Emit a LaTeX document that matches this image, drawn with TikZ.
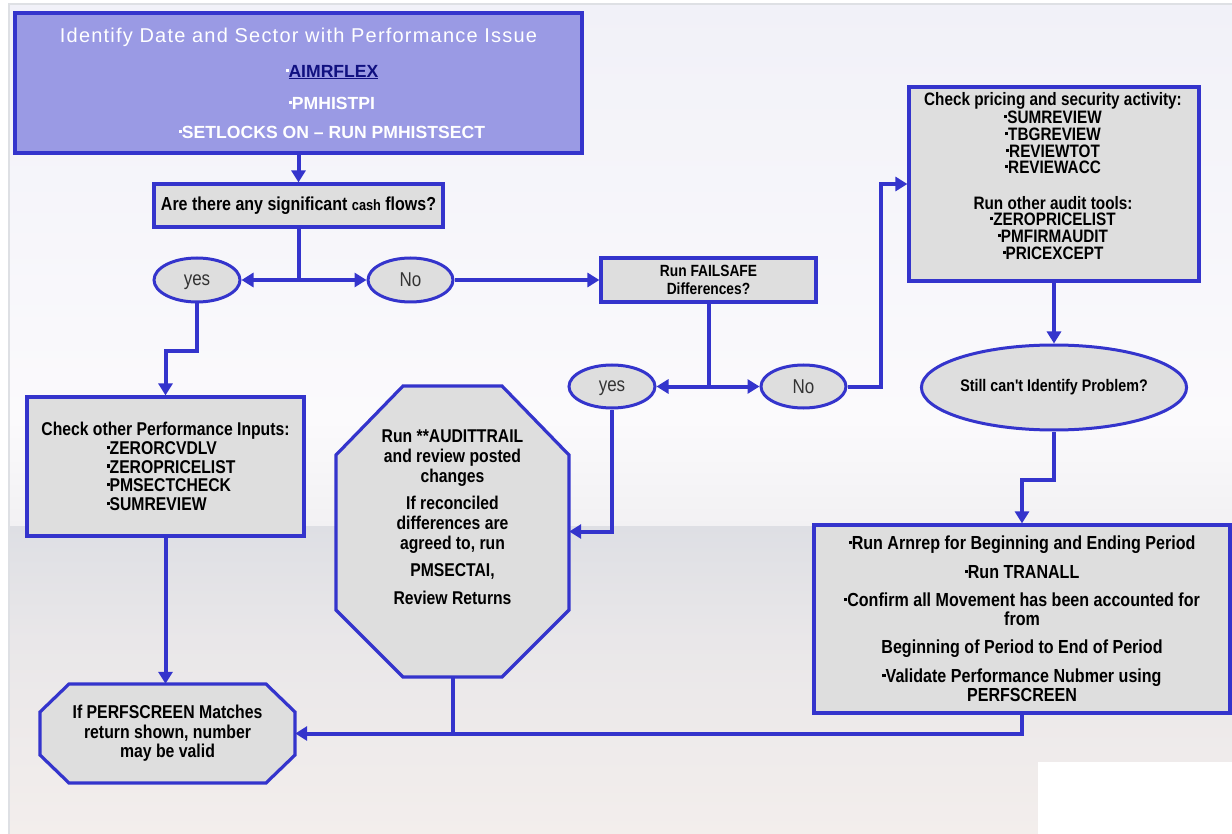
\documentclass[tikz,border=0pt]{standalone}
\usepackage{fontspec}
\setmainfont{Liberation Sans}
\newfontfamily\nar[FakeStretch=0.85]{Liberation Sans}
\newfontfamily\ttlf[LetterSpace=6]{Liberation Sans}
\usetikzlibrary{arrows.meta,calc,shapes.geometric}
\definecolor{bblue}{RGB}{52,52,204}
\definecolor{boxgray}{RGB}{222,222,222}
\definecolor{titlefill}{RGB}{154,154,228}
\definecolor{navy}{RGB}{16,16,128}
\definecolor{bgA}{RGB}{241,241,248}
\definecolor{bgB}{RGB}{251,250,252}
\definecolor{bgC}{RGB}{242,241,243}
\definecolor{bgD}{RGB}{222,223,228}
\definecolor{bgE}{RGB}{233,231,233}
\definecolor{bgF}{RGB}{243,238,236}
\definecolor{framegray}{RGB}{222,224,228}
\lineskiplimit=-100pt
\newcommand\sq{\raisebox{.3em}{\rule{.17em}{.17em}}}
\newcommand\fs[2]{\fontsize{#1}{#2}\selectfont}
\begin{document}
\begin{tikzpicture}[x=1pt,y=-1pt,
  box/.style={draw=bblue,line width=3.2pt,fill=boxgray,inner sep=0pt,align=center,font=\nar\bfseries},
  octo/.style={draw=bblue,line width=3.2pt,fill=boxgray,line join=miter},
  ell/.style={ellipse,draw=bblue,line width=3pt,fill=boxgray,inner sep=0pt},
  txt/.style={inner sep=0pt,align=center},
  conn/.style={draw=bblue,line width=4pt,line join=miter},
  arr/.style={conn,-{Triangle[length=12pt,width=14pt]}}]
\useasboundingbox (0,0) rectangle (1232,834);
% background
\fill[white] (0,0) rectangle (1232,834);
\shade[top color=bgA,bottom color=bgB] (9,4) rectangle (1232,420);
\shade[top color=bgB,bottom color=bgC] (9,420) rectangle (1232,526);
\shade[top color=bgD,bottom color=bgE] (9,526) rectangle (1232,640);
\shade[top color=bgE,bottom color=bgF] (9,640) rectangle (1232,834);
\fill[white] (1038,762) rectangle (1232,834);
\draw[framegray,line width=2pt] (9,834) -- (9,4) -- (1232,4);

% title
\node[box,fill=titlefill,text=white,minimum width=567,minimum height=140,font=\bfseries\fs{17.6}{17}] (title) at (298.5,83)
 {{\ttlf\mdseries\fs{20}{17}Identify Date and Sector with Performance Issue}\\[18pt]
  \hspace*{67pt}\sq\textcolor{navy}{\underline{AIMRFLEX}}\\[15pt]
  \hspace*{67pt}\sq PMHISTPI\\[12pt]
  \hspace*{67pt}\sq SETLOCKS ON – RUN PMHISTSECT};

\node[box,minimum width=289,minimum height=43,font=\nar\bfseries\fs{18.8}{19}] (cash) at (298.5,205.5)
 {Are there any significant {\fs{15}{19}cash} flows?};

\node[ell,minimum width=86,minimum height=44,font=\nar\fs{20}{19},text=black!80,text depth=0pt] (yes1) at (197,280) {yes};
\node[ell,minimum width=85,minimum height=44,font=\nar\fs{20}{19},text=black!80] (no1) at (410.5,280) {No};

\node[box,minimum width=215,minimum height=44,font=\nar\bfseries\fs{16.2}{18}] (fail) at (708.5,280)
 {Run FAILSAFE\\Differences?};

\node[ell,minimum width=86,minimum height=43,font=\nar\fs{20}{19},text=black!80,text depth=0pt] (yes2) at (612,386.5) {yes};
\node[ell,minimum width=85,minimum height=43,font=\nar\fs{20}{19},text=black!80] (no2) at (803.5,386.5) {No};

\node[box,minimum width=290,minimum height=194] (price) at (1054,184) {};
\node[txt,font=\nar\bfseries\fs{18}{17}] (pricetxt) at (1053,176)
 {Check pricing and security activity:\\[1pt]
  \sq SUMREVIEW\\
  \sq TBGREVIEW\\
  \sq REVIEWTOT\\[-1pt]
  \sq REVIEWACC\\[19pt]
  Run other audit tools:\\[-1pt]
  \sq ZEROPRICELIST\\
  \sq PMFIRMAUDIT\\
  \sq PRICEXCEPT};

\node[ell,minimum width=225,minimum height=85,font=\nar\bfseries\fs{16.8}{17}] (still) at (1054,387.5)
 {Still can't Identify Problem?};

\node[box,minimum width=416,minimum height=188,font=\nar\bfseries\fs{18.9}{19}] (final) at (1022,619)
 {\sq Run Arnrep for Beginning and Ending Period\\[10pt]
  \sq Run TRANALL\\[9pt]
  \sq Confirm all Movement has been accounted for\\
  from\\[9pt]
  Beginning of Period to End of Period\\[10pt]
  \sq Validate Performance Nubmer using\\
  PERFSCREEN};

\node[box,minimum width=277,minimum height=139,font=\nar\bfseries\fs{18.5}{18.75}] (check) at (165.5,466.5)
 {\makebox[250pt][c]{Check other Performance Inputs:}\\
  \makebox[250pt][l]{\hspace{66pt}\sq ZERORCVDLV}\\
  \makebox[250pt][l]{\hspace{66pt}\sq ZEROPRICELIST}\\
  \makebox[250pt][l]{\hspace{66pt}\sq PMSECTCHECK}\\
  \makebox[250pt][l]{\hspace{66pt}\sq SUMREVIEW}};

% octagons
\draw[octo] (403,386) -- (502,386) -- (569,455) -- (569,610) -- (502,677) -- (403,677) -- (336,610) -- (336,455) -- cycle;
\node[inner sep=0pt,minimum width=233,minimum height=291] (audit) at (452.5,531.5) {};
\node[txt,font=\nar\bfseries\fs{18.5}{20}] (audittxt) at (452.5,517)
 {Run **AUDITTRAIL\\
  and review posted\\
  changes\\[7pt]
  If reconciled\\
  differences are\\
  agreed to, run\\[7pt]
  PMSECTAI,\\[8pt]
  Review Returns};

\draw[octo] (69,684) -- (266,684) -- (295,712) -- (295,755) -- (266,783) -- (69,783) -- (40,755) -- (40,712) -- cycle;
\node[txt,minimum width=255,minimum height=99,font=\nar\bfseries\fs{18.6}{19.5}] (perf) at (167.5,733.5)
 {If PERFSCREEN Matches\\
  return shown, number\\
  may be valid};

% connectors
\coordinate (j1) at (cash.south |- no1.west);
\coordinate (j2) at (fail.south |- no2.west);
\draw[arr] (title.south) -- (cash.north);
\draw[conn] (cash.south) -- (j1);
\draw[arr] (j1) -- (yes1.east);
\draw[arr] (j1) -- (no1.west);
\draw[arr] (no1.east) -- (fail.west);
\draw[arr] (yes1.south) -- ++(0,48) -| (check.north);
\draw[conn] (fail.south) -- (j2);
\draw[arr] (j2) -- (yes2.east);
\draw[arr] (j2) -- (no2.west);
\draw[arr] (no2.east) -- ++(33,0) |- (price.west);
\draw[arr] (price.south) -- (still.north);
\draw[arr] (still.south) -- ++(0,48) -| (final.north);
\draw[arr] (yes2.south) |- (audit.east);
\draw[arr] (check.south) -- (check.south |- perf.north);
\draw[conn] (audit.south) -- (audit.south |- perf.east);
\draw[arr] (final.south) |- (perf.east);
\end{tikzpicture}
\end{document}
